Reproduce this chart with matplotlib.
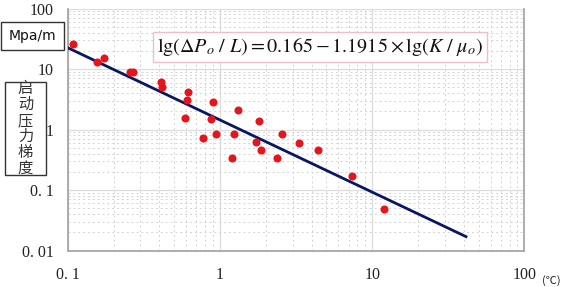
import matplotlib
matplotlib.use('Agg')
import matplotlib.pyplot as plt
from matplotlib.patches import Rectangle
from matplotlib.ticker import FixedLocator, LogLocator, NullFormatter

# measured points (K/mu, pressure gradient)
pts_x = [0.108, 0.155, 0.174, 0.256, 0.267, 0.407, 0.414, 0.613, 0.604, 0.589,
         0.904, 0.869, 1.31, 1.80, 0.77, 0.94, 1.24, 1.72, 1.86, 1.20,
         2.57, 2.36, 3.30, 4.41, 7.33, 12.0]
pts_y = [25.9, 13.2, 15.2, 8.8, 8.8, 6.1, 5.1, 4.2, 3.04, 1.53,
         2.88, 1.51, 2.08, 1.38, 0.716, 0.853, 0.853, 0.614, 0.467, 0.334,
         0.853, 0.334, 0.59, 0.464, 0.170, 0.0485]

# fitted line
fit_x = [0.1, 41.3]
fit_y = [22.5, 0.0170]

xticks = [0.1, 1, 10, 100]
xlabels = ['0. 1', '1', '10', '100']
yticks = [0.01, 0.1, 1, 10, 100]
ylabels = ['0. 01', '0. 1', '1', '10', '100']

W, H = 563, 287
fig = plt.figure(figsize=(W / 100, H / 100), dpi=100)
ax = fig.add_axes([0.1205, 0.127, 0.811, 0.843])
ax.set_xscale('log')
ax.set_yscale('log')
ax.set_xlim(0.1, 100)
ax.set_ylim(0.01, 100)

ax.plot(fit_x, fit_y, color='#0a1660', lw=2.0, zorder=3)
ax.plot(pts_x, pts_y, 'o', color='#e8141c', ms=5.8, mec='none', zorder=4)

ax.xaxis.set_major_locator(FixedLocator(xticks))
ax.yaxis.set_major_locator(FixedLocator(yticks))
ax.set_xticklabels(xlabels, family='Liberation Serif', fontsize=11.5)
ax.set_yticklabels(ylabels, family='Liberation Serif', fontsize=11.5)
ax.xaxis.set_minor_locator(LogLocator(base=10, subs=range(2, 10)))
ax.yaxis.set_minor_locator(LogLocator(base=10, subs=range(2, 10)))
ax.xaxis.set_minor_formatter(NullFormatter())
ax.yaxis.set_minor_formatter(NullFormatter())
ax.tick_params(which='both', length=0, colors='#222222')
ax.tick_params(axis='x', pad=12)
ax.tick_params(axis='y', pad=10)

ax.grid(which='major', color='#dcdcdc', lw=0.9, ls='-')
ax.grid(which='minor', color='#d4d4d4', lw=0.7, ls=(0, (2, 3)))
for s in ['left', 'bottom', 'right']:
    ax.spines[s].set_color('#a0a0a0')
    ax.spines[s].set_linewidth(1.2)
ax.spines['top'].set_visible(False)

ax.text(0.553, 0.843,
        r'$\mathrm{lg}(\Delta P_o\ /\ L) = 0.165 - 1.1915\times\mathrm{lg}(K\ /\ \mu_o)$',
        transform=ax.transAxes, ha='center', va='center', fontsize=14.5,
        math_fontfamily='stix', color='#111111',
        bbox=dict(boxstyle='square,pad=0.2', fc='white', ec='#f2bcd0', lw=1))

# unit box
fig.add_artist(Rectangle((1 / W, 1 - 50 / H), 63 / W, 28 / H, transform=fig.transFigure,
                         fc='white', ec='#333333', lw=1))
fig.text(32 / W, 1 - 36 / H, 'Mpa/m', ha='center', va='center', fontsize=10,
         family='DejaVu Sans', color='#111111')

# vertical label box
fig.add_artist(Rectangle((5 / W, 1 - 175 / H), 41 / W, 93 / H, transform=fig.transFigure,
                         fc='white', ec='#333333', lw=1))
fig.text(25.5 / W, 1 - 128.5 / H, '\n'.join('启动压力梯度'), ha='center', va='center',
         fontsize=11, family=['Noto Sans CJK SC', 'DejaVu Sans'], linespacing=0.93,
         color='#333333')

fig.text(551 / W, 1 - 281 / H, '(℃)', ha='center', va='center', fontsize=8,
         family=['Noto Sans CJK SC', 'DejaVu Sans'], color='#222222')

fig.savefig('out.png', dpi=100)
